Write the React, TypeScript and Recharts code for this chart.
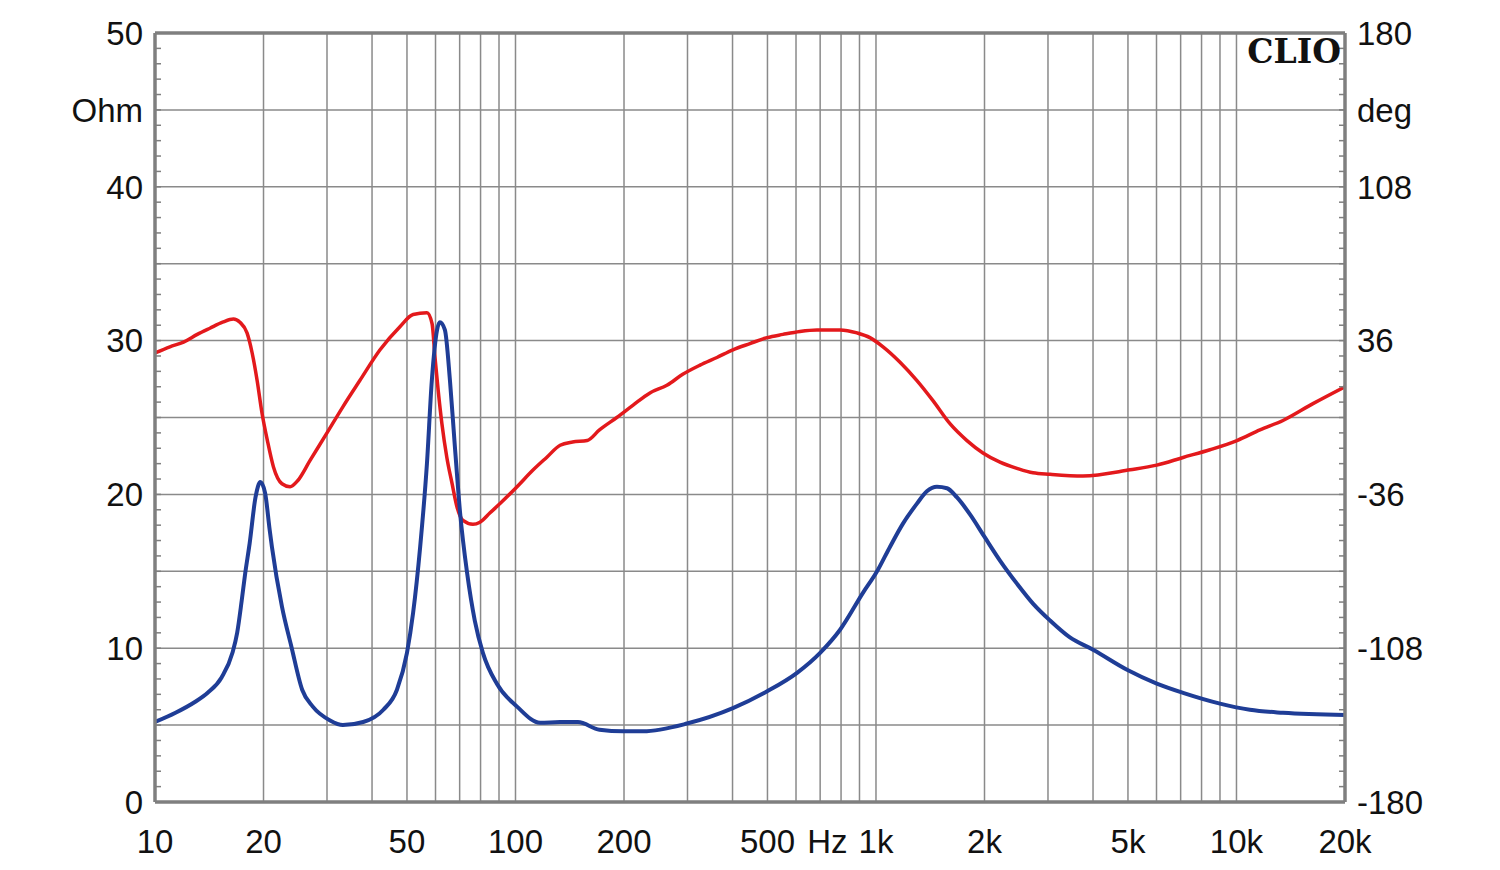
import React from 'react';
import { LineChart, Line, XAxis, YAxis, CartesianGrid, ReferenceLine } from 'recharts';

// impedance magnitude (Ohm, left axis)
const zFreq = [10, 11.4, 12.9, 14.0, 15.3, 16.4, 16.9, 17.4, 17.8, 18.3, 19.0, 19.6, 20.2, 20.8, 21.1, 22.5, 23.9, 25.6, 27.4, 30.6, 33.2, 37.8, 43.0, 46.9, 50.0, 52.0, 54.4, 56.8, 58.6, 60.6, 61.7, 63.7, 65.8, 67.9, 70.2, 73.4, 77.1, 81.2, 88.7, 101, 117, 133, 149, 171, 199, 226, 299, 401, 499, 604, 700, 795, 920, 1007, 1094, 1188, 1299, 1384, 1476, 1574, 1678, 1823, 2005, 2208, 2460, 2726, 3040, 3451, 4000, 4970, 6010, 7110, 9000, 10890, 13460, 20000];
const zOhm = [5.2, 5.8, 6.5, 7.1, 8.1, 9.7, 11.0, 13.1, 14.9, 16.8, 19.8, 20.8, 20.1, 17.7, 16.6, 12.7, 10.1, 7.3, 6.2, 5.3, 5.0, 5.2, 6.0, 7.3, 9.7, 12.3, 16.6, 22.0, 27.4, 30.7, 31.2, 30.7, 27.4, 23.1, 18.8, 14.9, 11.8, 9.7, 7.7, 6.2, 5.15, 5.2, 5.2, 4.7, 4.6, 4.6, 5.1, 6.1, 7.2, 8.4, 9.7, 11.2, 13.6, 15.0, 16.6, 18.1, 19.4, 20.2, 20.5, 20.4, 19.8, 18.7, 17.2, 15.7, 14.2, 12.9, 11.8, 10.7, 9.9, 8.6, 7.7, 7.1, 6.4, 6.0, 5.8, 5.65];

// phase (deg, right axis)
const phFreq = [10, 11.0, 12.0, 13.1, 14.2, 15.4, 16.5, 17.2, 18.0, 18.6, 19.2, 19.8, 20.5, 21.3, 22.5, 23.7, 24.9, 26.9, 30.0, 33.2, 37.0, 42.1, 47.8, 52.0, 56.8, 58.7, 59.8, 61.0, 62.5, 64.5, 66.7, 68.8, 71.5, 76.2, 79.7, 85.0, 90.6, 101, 112, 122, 133, 144, 158, 171, 191, 212, 236, 263, 291, 325, 362, 401, 447, 499, 552, 615, 686, 795, 886, 962, 1046, 1166, 1299, 1439, 1604, 1788, 1980, 2208, 2460, 2726, 3040, 3750, 5070, 6010, 7110, 8440, 10030, 11620, 13460, 16300, 20000];
const phDeg = [30.2, 33.1, 35.3, 38.9, 41.8, 44.6, 46.1, 44.6, 39.6, 30.2, 17.3, 2.2, -10.8, -23.0, -31.0, -32.4, -29.5, -20.2, -7.2, 5.0, 17.3, 31.7, 42.5, 48.2, 49.0, 43.9, 28.1, 13.0, -2.9, -18.7, -31.0, -41.8, -48.2, -50.0, -49.0, -44.6, -40.3, -32.4, -24.5, -18.7, -13.0, -11.5, -10.8, -5.8, 0, 5.8, 11.5, 15.1, 20.2, 24.5, 28.1, 31.7, 34.6, 37.4, 38.9, 40.3, 41.0, 41.0, 39.6, 37.4, 33.1, 25.9, 17.3, 7.9, -2.9, -10.8, -16.6, -20.9, -23.8, -25.9, -26.6, -27.4, -24.5, -22.3, -18.7, -15.1, -10.8, -5.8, -1.4, 6.5, 14.4];

// axes
const freqTicks = [10, 20, 50, 100, 200, 500, 1000, 2000, 5000, 10000, 20000];
const freqLabels = ['10', '20', '50', '100', '200', '500', '1k', '2k', '5k', '10k', '20k'];
const freqGrid = [20, 30, 40, 50, 60, 70, 80, 90, 100, 200, 300, 400, 500, 600, 700, 800, 900, 1000, 2000, 3000, 4000, 5000, 6000, 7000, 8000, 9000, 10000, 20000];
const ohmGrid = [0, 5, 10, 15, 20, 25, 30, 35, 40, 45, 50];
const ohmLabels: Record<number, string> = { 0: '0', 10: '10', 20: '20', 30: '30', 40: '40', 45: 'Ohm', 50: '50' };
const degLabelValues = [-180, -108, -36, 36, 108, 144, 180];
const degLabels = ['-180', '-108', '-36', '36', '108', 'deg', '180'];

const ohmMinor = Array.from({ length: 51 }, (_, i) => i);
const degMinor = Array.from({ length: 51 }, (_, i) => -180 + i * 7.2);

const impedance = zFreq.map((f, i) => ({ f, z: zOhm[i] }));
const phase = phFreq.map((f, i) => ({ f, p: phDeg[i] }));

const FONT = '"Liberation Sans", Arial, sans-serif';
const FS = 33;
const AXIS = '#7f7f7f';
const GRID = '#8a8a8a';

const XTick = (props: any) => {
  const { x, y, payload } = props;
  const idx = freqTicks.indexOf(payload.value);
  if (idx < 0) return null;
  return (
    <g>
      <text x={x} y={y + 51} textAnchor="middle" fontFamily={FONT} fontSize={FS} fill="#111">
        {freqLabels[idx]}
      </text>
      {payload.value === 500 && (
        <text x={x + 60} y={y + 51} textAnchor="middle" fontFamily={FONT} fontSize={FS} fill="#111">
          Hz
        </text>
      )}
    </g>
  );
};

const LeftTick = (props: any) => {
  const { x, y, payload } = props;
  const label = ohmLabels[Math.round(payload.value)];
  return (
    <g>
      <line x1={x} x2={x + 6} y1={y} y2={y} stroke={AXIS} strokeWidth={1.5} />
      {label && (
        <text x={x - 12} y={y} dy="0.36em" textAnchor="end" fontFamily={FONT} fontSize={FS} fill="#111">
          {label}
        </text>
      )}
    </g>
  );
};

const RightTick = (props: any) => {
  const { x, y, payload } = props;
  const idx = degLabelValues.findIndex((v) => Math.abs(v - payload.value) < 0.01);
  return (
    <g>
      <line x1={x} x2={x - 6} y1={y} y2={y} stroke={AXIS} strokeWidth={1.5} />
      {idx >= 0 && (
        <text x={x + 12} y={y} dy="0.36em" textAnchor="start" fontFamily={FONT} fontSize={FS} fill="#111">
          {degLabels[idx]}
        </text>
      )}
    </g>
  );
};

export default function App() {
  return (
    <div style={{ position: 'relative', width: 1484, height: 854, background: '#fff' }}>
      <LineChart width={1484} height={854} margin={{ top: 25, right: 0, left: 0, bottom: 0 }}>
        <CartesianGrid
          yAxisId="ohm"
          stroke={GRID}
          strokeWidth={1.5}
          verticalValues={freqGrid}
          horizontalValues={ohmGrid}
        />
        <XAxis
          dataKey="f"
          type="number"
          scale="log"
          domain={[10, 20000]}
          allowDataOverflow
          ticks={freqTicks}
          interval={0}
          tick={<XTick />}
          tickLine={false}
          tickSize={0}
          tickMargin={0}
          height={60}
          axisLine={{ stroke: AXIS, strokeWidth: 3.5 }}
        />
        <YAxis
          yAxisId="ohm"
          orientation="left"
          type="number"
          domain={[0, 50]}
          ticks={ohmMinor}
          interval={0}
          tick={<LeftTick />}
          tickLine={false}
          tickSize={0}
          tickMargin={0}
          width={147}
          axisLine={{ stroke: AXIS, strokeWidth: 3.5 }}
        />
        <YAxis
          yAxisId="deg"
          orientation="right"
          type="number"
          domain={[-180, 180]}
          ticks={degMinor}
          interval={0}
          tick={<RightTick />}
          tickLine={false}
          tickSize={0}
          tickMargin={0}
          width={147}
          axisLine={{ stroke: AXIS, strokeWidth: 3.5 }}
        />
        <ReferenceLine yAxisId="ohm" y={50} stroke={AXIS} strokeWidth={3.5} />
        <Line
          yAxisId="deg"
          data={phase}
          dataKey="p"
          type="monotone"
          stroke="#e3191c"
          strokeWidth={3.5}
          dot={false}
          isAnimationActive={false}
        />
        <Line
          yAxisId="ohm"
          data={impedance}
          dataKey="z"
          type="monotone"
          stroke="#1f3d96"
          strokeWidth={4}
          dot={false}
          isAnimationActive={false}
        />
      </LineChart>
      <svg width={1484} height={854} style={{ position: 'absolute', left: 0, top: 0, pointerEvents: 'none' }}>
        <text x={1333} y={55} textAnchor="end" fontFamily='"DejaVu Serif", serif' fontWeight="bold" fontSize={33} fill="#111">
          CLIO
        </text>
      </svg>
    </div>
  );
}
